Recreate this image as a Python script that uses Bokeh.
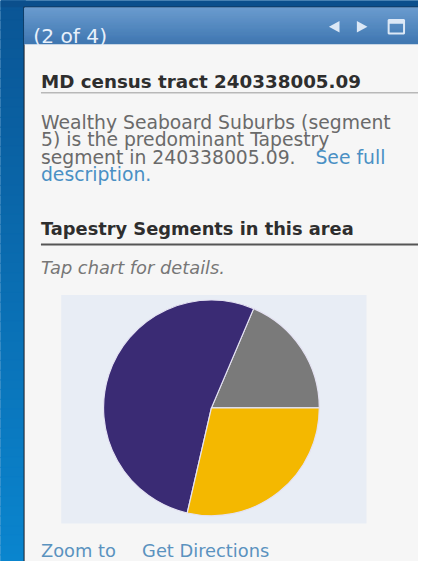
import numpy as np
from bokeh.plotting import figure
from bokeh.models import Range1d, ColumnDataSource
from bokeh.core.properties import value
from bokeh.embed import file_html
from bokeh.resources import INLINE

# ---- data ----
segment_names = ["Other segment A", "Wealthy Seaboard Suburbs (segment 5)", "Other segment B"]
segment_shares = [18.6, 52.8, 28.6]
segment_colors = ["#7a7a7a", "#3a2b74", "#f4b800"]

header_text = "(2 of 4)"
title_text = "MD census tract 240338005.09"
para_lines = ["Wealthy Seaboard Suburbs (segment",
              "5) is the predominant Tapestry",
              "segment in 240338005.09."]
link_full = "See full"
link_desc = "description."
section_text = "Tapestry Segments in this area"
hint_text = "Tap chart for details."
footer_links = ["Zoom to", "Get Directions"]

# ---- figure: whole reference (434 x 577) mapped onto the plot ----
W, H = 418, 561
S = W / 434.0  # font scale

def Y(y):
    return 577 - y

p = figure(width=W, height=H, x_range=Range1d(0, 434), y_range=Range1d(0, 577),
           output_backend="svg", toolbar_location=None, min_border=0)
p.axis.visible = False
p.grid.visible = False
p.outline_line_color = None
p.background_fill_color = "#0a6db3"
p.border_fill_color = "#0a6db3"

def lerp(c1, c2, t):
    a = np.array([int(c1[i:i+2], 16) for i in (1, 3, 5)])
    b = np.array([int(c2[i:i+2], 16) for i in (1, 3, 5)])
    c = (a + (b - a) * t).astype(int)
    return "#%02x%02x%02x" % tuple(c)

# blue background gradient (left strip)
bands = np.arange(0, 580, 10)
cols = [lerp("#0b5696", "#0a86cf", b / 577) for b in bands]
p.quad(left=0, right=26, top=[Y(b) for b in bands], bottom=[Y(b + 10.5) for b in bands],
       fill_color=cols, line_color=cols, line_width=1)
# top strip
p.quad(left=0, right=434, top=Y(-2), bottom=Y(7), color="#0b4f8c", line_color=None)

# panel border
p.quad(left=24, right=440, top=Y(6.5), bottom=Y(590), fill_color="#151b26", line_color=None)
# header gradient
hb = np.arange(7.5, 45, 1.5)
hcols = [lerp("#6b9ccf", "#3f77b1", (b - 7.5) / 37.5) for b in hb]
p.quad(left=25, right=440, top=[Y(b) for b in hb], bottom=[Y(b + 1.8) for b in hb],
       fill_color=hcols, line_color=hcols, line_width=1)
# content background
p.quad(left=25, right=440, top=Y(45), bottom=Y(590), color="#f6f6f6", line_color=None)

# header icons
p.patch(x=[341, 352, 352], y=[Y(27), Y(21), Y(33)], color="#dce8f6", line_color=None)
p.patch(x=[381, 370, 370], y=[Y(27), Y(21), Y(33)], color="#dce8f6", line_color=None)
p.quad(left=403, right=419, top=Y(20), bottom=Y(34), fill_color=None, line_color="#dce8f6", line_width=2)
p.quad(left=403, right=419, top=Y(20), bottom=Y(24), color="#dce8f6", line_color=None)

def txt(x, y, s, size, color, style="normal"):
    p.text(x=[x], y=[Y(y)], text=[s], text_font=value("DejaVu Sans"),
           text_font_size=f"{size * S:.2f}px", text_color=color, text_font_style=style,
           text_baseline="alphabetic", text_align="left")

txt(34, 36, header_text, 21, "#e8f0fb")
txt(42, 83, title_text, 19, "#2e2e2e", "bold")
p.line(x=[42, 440], y=[Y(95), Y(95)], line_color="#b8b8b8", line_width=1.5)
for i, s in enumerate(para_lines):
    txt(42, 125 + 18 * i, s, 19.5, "#6a6a6a")
txt(327, 161, link_full, 19.5, "#4a90c4")
txt(42, 179, link_desc, 19.5, "#4a90c4")
txt(42, 235, section_text, 18.5, "#2e2e2e", "bold")
p.line(x=[42, 440], y=[Y(251), Y(251)], line_color="#555555", line_width=2)
txt(42, 275, hint_text, 18.5, "#777777", "italic")

# chart box
p.quad(left=63, right=380, top=Y(303), bottom=Y(538), color="#e8edf5", line_color=None)

# pie
shares = np.array(segment_shares)
ang = np.cumsum(shares) / shares.sum() * 2 * np.pi
starts = np.concatenate([[0], ang[:-1]])
src = ColumnDataSource(dict(start=starts, end=ang, color=segment_colors, name=segment_names))
p.wedge(x=219, y=Y(419), radius=112, start_angle="start", end_angle="end",
        fill_color="color", line_color="#e4e2f2", line_width=1.2, source=src)

txt(42, 566, footer_links[0], 18.5, "#5a92bf")
txt(147, 566, footer_links[1], 18.5, "#5a92bf")

open("out.html", "w").write(file_html(p, INLINE))
